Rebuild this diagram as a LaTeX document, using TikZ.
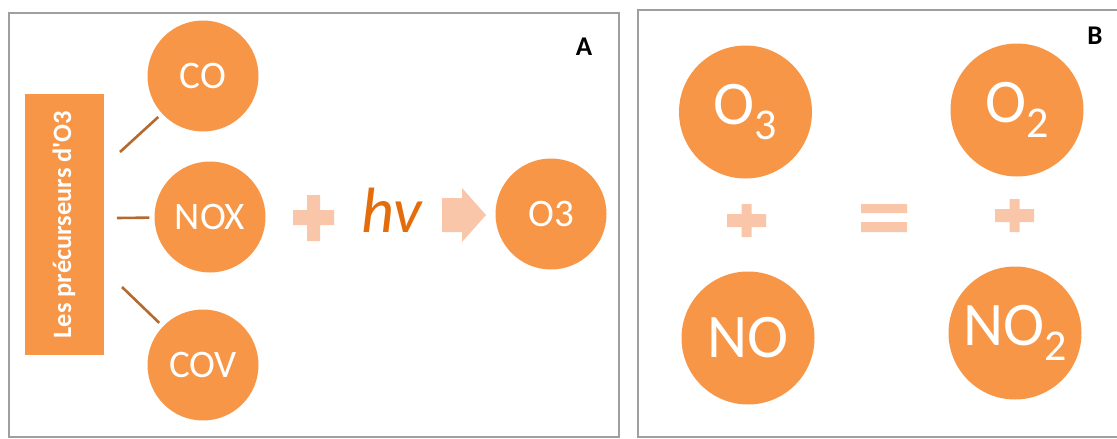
\documentclass[tikz,border=0pt]{standalone}
\usepackage{fontspec}
\setmainfont{Carlito}
\usepackage{tikz}
\usetikzlibrary{calc,positioning}

\definecolor{accent}{HTML}{F79646}
\definecolor{lightacc}{HTML}{F9C6A9}
\definecolor{darkacc}{HTML}{E46C0A}
\definecolor{linkcol}{HTML}{B4692E}

\newcommand{\molsub}[1]{\raisebox{-0.24em}{\fontsize{44}{44}\selectfont #1}}

\begin{document}
\begin{tikzpicture}[x=1pt,y=-1pt,
    ball/.style={circle,fill=accent,text=white,inner sep=0pt},
    smallball/.style={ball,minimum size=111pt,font=\fontsize{39}{40}\selectfont},
    bigball/.style={ball,minimum size=133pt,font=\fontsize{62}{64}\selectfont},
    link/.style={draw=linkcol,line width=2.6pt,shorten >=5pt},
    frame/.style={draw=gray!75,line width=2.6pt},
    tag/.style={font=\bfseries\fontsize{27}{28}\selectfont}]
    \useasboundingbox (0,0) rectangle (1117,439);
    % panel A
    \draw[frame] (9,13) rectangle (619,437);
    \node[fill=accent,minimum width=79pt,minimum height=261pt] (prec) at (64,224.5) {};
    \node[rotate=90,text=white,font=\bfseries\fontsize{26.5}{27}\selectfont] at (prec.center) {Les précurseurs d\textquotesingle O3};
    \node[smallball] (co) at (203,76) {CO};
    \node[smallball] (nox) at (210,217) {NOX};
    \node[smallball] (cov) at (203,365) {COV};
    \node[smallball] (othree) at (551,214) {O3};
    \coordinate (pco) at (120,152);
    \coordinate (pnox) at (117,218);
    \coordinate (pcov) at (122,287);
    \draw[link] (pco) -- (co);
    \draw[link] (pnox) -- (nox);
    \draw[link] (pcov) -- (cov);
    \fill[lightacc] (307,195) rectangle (320,241) (293,210) rectangle (334,225);
    \node[text=darkacc,font=\itshape\fontsize{64}{66}\selectfont] (hv) at (392,210) {hv};
    \fill[lightacc] (442,198) -- (462,198) -- (462,188) -- (486,215)
        -- (462,242) -- (462,232) -- (442,232) -- cycle;
    \node[tag] (taga) at (584,47) {A};
    % panel B
    \draw[frame] (638,10) rectangle (1130,437);
    \node[bigball] (ozone) at (745.5,112) {O\molsub{3}};
    \node[bigball] (no) at (748,338) {NO};
    \node[bigball] (oxy) at (1017,110) {O\molsub{2}};
    \node[bigball] (notwo) at (1015,333) {NO\molsub{2}};
    \fill[lightacc] (741.5,204) rectangle (751.5,237) (727,214) rectangle (766,227);
    \fill[lightacc] (1009.5,199) rectangle (1019.5,232) (995,209) rectangle (1034,222);
    \fill[lightacc] (861,204) rectangle (907,213) (861,222) rectangle (907,232);
    \node[tag] (tagb) at (1095,36) {B};
\end{tikzpicture}
\end{document}
